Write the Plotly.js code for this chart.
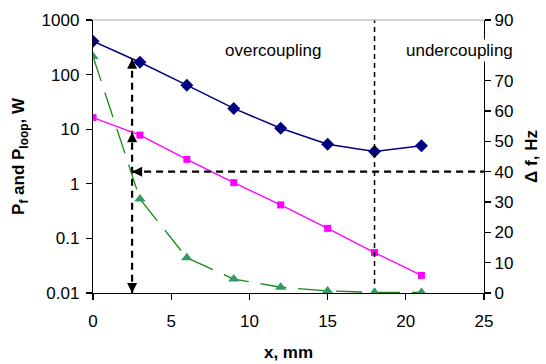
<!DOCTYPE html>
<html>
<head>
<meta charset="utf-8">
<script src="https://cdn.plot.ly/plotly-3.0.1.min.js"></script>
<style>html,body{margin:0;padding:0;background:#fff;}#chart{width:546px;height:364px;}</style>
</head>
<body>
<div id="chart"></div>
<script>
// x positions (mm)
var xPos = [0, 3, 6, 9, 12, 15, 18, 21];
// P_f (W), blue diamonds, left log axis
var pF = [410, 168, 64, 24, 10.4, 5.3, 3.9, 5.0];
// P_loop (W), magenta squares, left log axis
var pLoop = [16.3, 7.8, 2.8, 1.05, 0.41, 0.153, 0.055, 0.021];
// Δf (Hz), green triangles, right axis
var deltaF = [78, 31, 11.6, 4.6, 1.9, 0.7, 0.2, 0.2];
// reference markers
var xMark = 2.5;          // operating gap (mm)
var dfTarget = 40;        // target Δf (Hz)
var xBoundary = 18;       // over/under coupling boundary (mm)
var xMax = 25, dfMax = 90, pMin = 0.01;
var leftTicks = [0.01, 0.1, 1, 10, 100, 1000];
var leftTickText = ["0.01", "0.1", "1", "10", "100", "1000"];
// right-axis ticks (the 80 tick sits under the "undercoupling" label in the reference)
var rightTicks = [0, 10, 20, 30, 40, 50, 60, 70, 90];
var regionLabels = ["overcoupling", "undercoupling"];
var regionX = [11.5, 23.45];
var regionY = [80, 80];

function logInterp(xs, ys, x) {
  for (var i = 0; i < xs.length - 1; i++) {
    if (x >= xs[i] && x <= xs[i + 1]) {
      var t = (x - xs[i]) / (xs[i + 1] - xs[i]);
      return Math.pow(10, Math.log10(ys[i]) + t * (Math.log10(ys[i + 1]) - Math.log10(ys[i])));
    }
  }
  return ys[ys.length - 1];
}
var pFAtMark = logInterp(xPos, pF, xMark);
var pLoopAtMark = logInterp(xPos, pLoop, xMark);

var font = "Liberation Sans, Arial, sans-serif";
var traces = [
  {x: [xMark, xMark], y: [pFAtMark, pMin], mode: "lines", yaxis: "y",
   line: {color: "#000", width: 2.2, dash: "7px,5px"}, hoverinfo: "skip", showlegend: false},
  {x: [xMark, xMax], y: [dfTarget, dfTarget], mode: "lines", yaxis: "y2",
   line: {color: "#000", width: 2.2, dash: "7px,5px"}, hoverinfo: "skip", showlegend: false},
  {x: [xBoundary, xBoundary], y: [0, dfMax], mode: "lines", yaxis: "y2",
   line: {color: "#000", width: 1.5, dash: "5px,4px"}, hoverinfo: "skip", showlegend: false},
  {x: xPos, y: deltaF, mode: "lines+markers", yaxis: "y2", name: "Δf",
   line: {color: "#138a13", width: 1.3, dash: "26px,12px"},
   marker: {symbol: "triangle-up", size: 10, color: "#339966"}, showlegend: false},
  {x: xPos, y: pLoop, mode: "lines+markers", yaxis: "y", name: "P_loop",
   line: {color: "#ff00ff", width: 1.3},
   marker: {symbol: "square", size: 7, color: "#ff00ff"}, showlegend: false},
  {x: xPos, y: pF, mode: "lines+markers", yaxis: "y", name: "P_f",
   line: {color: "#000080", width: 1.5},
   marker: {symbol: "diamond", size: 10, color: "#000080"}, showlegend: false}
];

var arrowBase = {text: "", showarrow: true, arrowhead: 2, arrowsize: 1, arrowwidth: 2,
  arrowcolor: "#000", standoff: 0};
var annotations = [
  Object.assign({}, arrowBase, {x: xMark, y: Math.log10(pFAtMark), xref: "x", yref: "y", ax: 0, ay: 8}),
  Object.assign({}, arrowBase, {x: xMark, y: Math.log10(pLoopAtMark), xref: "x", yref: "y", ax: 0, ay: 8}),
  Object.assign({}, arrowBase, {x: xMark, y: Math.log10(pMin), xref: "x", yref: "y", ax: 0, ay: -8}),
  Object.assign({}, arrowBase, {x: xMark, y: dfTarget, xref: "x", yref: "y2", ax: 8, ay: 0})
];
for (var i = 0; i < regionLabels.length; i++) {
  annotations.push({text: regionLabels[i], x: regionX[i], y: regionY[i], xref: "x", yref: "y2",
    showarrow: false, bgcolor: "#fff", font: {family: font, size: 17, color: "#000"}});
}

var axisCommon = {showgrid: false, zeroline: false, showline: true, linecolor: "#000", linewidth: 1.2,
  ticks: "outside", ticklen: 6, tickcolor: "#000", tickwidth: 1.2,
  tickfont: {family: font, size: 17, color: "#000"}};

var layout = {
  width: 546, height: 364,
  margin: {l: 93, r: 62, t: 20, b: 71, pad: 0},
  paper_bgcolor: "#fff", plot_bgcolor: "#fff",
  showlegend: false,
  xaxis: Object.assign({}, axisCommon, {range: [0, xMax], dtick: 5, tick0: 0, ticklabelstandoff: 6,
    title: {text: "<b>x, mm</b>", font: {family: font, size: 17, color: "#000"}, standoff: 16}}),
  yaxis: Object.assign({}, axisCommon, {type: "log", range: [Math.log10(pMin), 3],
    tickvals: leftTicks, ticktext: leftTickText, ticklabelstandoff: 3,
    title: {text: "<b>P<sub>f</sub> and P<sub>loop</sub>, W</b>", font: {family: font, size: 17, color: "#000"}, standoff: 12}}),
  yaxis2: Object.assign({}, axisCommon, {overlaying: "y", side: "right", range: [0, dfMax],
    tickvals: rightTicks,
    title: {text: "<b>Δ f, Hz</b>", font: {family: font, size: 17, color: "#000"}, standoff: 12}}),
  shapes: [{type: "line", xref: "paper", yref: "paper", x0: 0, x1: 1, y0: 1, y1: 1,
    line: {color: "#aaaaaa", width: 1.2}}],
  annotations: annotations
};

Plotly.newPlot("chart", traces, layout, {staticPlot: true, displayModeBar: false});
</script>
</body>
</html>
